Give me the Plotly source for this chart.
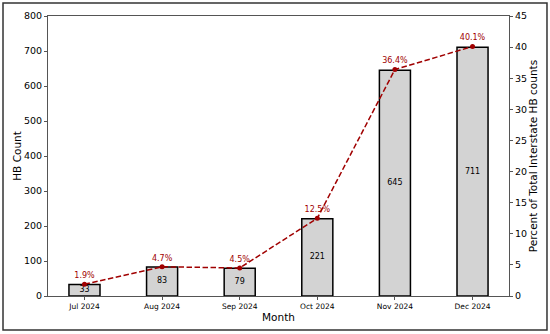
import plotly.graph_objects as go

months = ["Jul 2024", "Aug 2024", "Sep 2024", "Oct 2024", "Nov 2024", "Dec 2024"]
hb_counts = [33, 83, 79, 221, 645, 711]
pct_total = [1.9, 4.7, 4.5, 12.5, 36.4, 40.1]

x = list(range(len(months)))
FONT = "DejaVu Sans"
AX = "#555555"
RED = "#a00000"

fig = go.Figure()
fig.add_trace(go.Bar(
    x=x, y=hb_counts, width=0.4,
    marker=dict(color="#d3d3d3", line=dict(color="black", width=1.5)),
    showlegend=False, hoverinfo="skip",
))
fig.add_trace(go.Scatter(
    x=x, y=[v / 2 for v in hb_counts], mode="text",
    text=[str(v) for v in hb_counts],
    textfont=dict(family=FONT, size=8, color="black"),
    showlegend=False, hoverinfo="skip",
))
fig.add_trace(go.Scatter(
    x=x, y=pct_total, yaxis="y2", mode="lines+markers+text",
    line=dict(color=RED, width=1.5, dash="5.5px,2.5px"),
    marker=dict(color=RED, size=5),
    text=[f"{v:.1f}%" for v in pct_total], textposition="top center",
    textfont=dict(family=FONT, size=8, color=RED),
    showlegend=False, hoverinfo="skip",
))

fig.update_layout(
    width=550, height=334,
    margin=dict(l=48, r=41, t=16, b=38),
    paper_bgcolor="white", plot_bgcolor="white",
    font=dict(family=FONT, size=9, color="black"),
    xaxis=dict(
        range=[-0.47, 5.47], tickvals=x, ticktext=months, automargin=False,
        tickfont=dict(size=7.5), ticks="outside", ticklen=3, tickcolor=AX,
        showline=True, linecolor=AX, linewidth=1, mirror=True,
        showgrid=False, zeroline=False,
        title=dict(text="Month", font=dict(size=10.5), standoff=3),
    ),
    yaxis=dict(
        range=[0, 800], dtick=100, ticks="outside", ticklen=3, tickcolor=AX,
        showline=True, linecolor=AX, linewidth=1, automargin=False,
        showgrid=False, zeroline=False, tickfont=dict(size=9.5),
        title=dict(text="HB Count", font=dict(size=10.5), standoff=0),
    ),
    yaxis2=dict(
        range=[0, 45], dtick=5, overlaying="y", side="right", automargin=False,
        ticks="outside", ticklen=3, tickcolor=AX,
        showline=True, linecolor=AX, linewidth=1,
        showgrid=False, zeroline=False, tickfont=dict(size=9.5),
        title=dict(text="Percent of Total Interstate HB counts", font=dict(size=10.5), standoff=2),
    ),
    shapes=[dict(
        type="rect", xref="paper", yref="paper",
        x0=-0.0976, x1=1.0824, y0=-0.1214, y1=1.0464,
        line=dict(color="#333333", width=1.5), fillcolor="rgba(0,0,0,0)",
    )],
)

fig.write_html("out.html", config={"displayModeBar": False},
               post_script="document.body.style.margin='0';document.body.style.overflow='hidden';")
